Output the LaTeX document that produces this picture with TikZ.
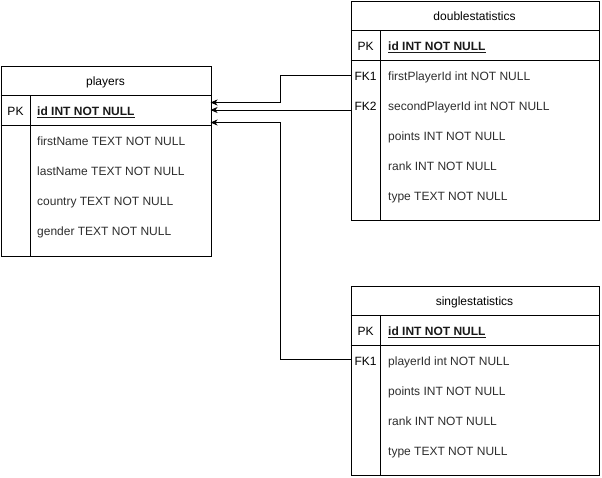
\documentclass[tikz,border=0pt]{standalone}
\usepackage{fontspec}
\setmainfont{Liberation Sans}
\usetikzlibrary{arrows.meta}
\begin{document}
\begin{tikzpicture}[x=1pt,y=-1pt,
  frame/.style={draw=black,line width=1pt,fill=white,anchor=north west,inner sep=0pt},
  hdr/.style={font=\fontsize{12}{14}\selectfont,text=black,inner sep=0pt,anchor=base},
  keylbl/.style={font=\fontsize{12}{14}\selectfont,text=black,inner sep=0pt,anchor=base},
  fld/.style={font=\fontsize{12}{14}\selectfont,text=black!82,inner sep=0pt,anchor=base west},
  pkfld/.style={font=\fontsize{12}{14}\selectfont\bfseries,text=black!90,inner sep=0pt,anchor=base west},
  gridline/.style={draw=black,line width=1pt},
  rel/.style={draw=black,line width=1pt,-{Stealth[length=7pt,width=6pt,inset=2pt]}}]
\useasboundingbox (0,0) rectangle (602,477);
\fill[white] (0,0) rectangle (602,477);

% ---------- players ----------
\node[frame,minimum width=210pt,minimum height=190pt] (players) at (0.5,65.5) {};
\draw[gridline] (0.5,95.5) -- (210.5,95.5);
\draw[gridline] (0.5,125.5) -- (210.5,125.5);
\draw[gridline] (30.5,95.5) -- (30.5,255.5);
\node[hdr] (ptitle) at (105.5,85.5) {players};
\node[keylbl] (ppk) at (15.5,115.5) {PK};
\node[pkfld] (pid) at (37,115.5) {\underline{id INT NOT NULL}};
\node[fld] (pf1) at (37,145.5) {firstName TEXT NOT NULL};
\node[fld] (pf2) at (37,175.5) {lastName TEXT NOT NULL};
\node[fld] (pf3) at (37,205.5) {country TEXT NOT NULL};
\node[fld] (pf4) at (37,235.5) {gender TEXT NOT NULL};

% ---------- doublestatistics ----------
\node[frame,minimum width=248pt,minimum height=219pt] (dbl) at (350.5,0.5) {};
\draw[gridline] (350.5,30.5) -- (598.5,30.5);
\draw[gridline] (350.5,60.5) -- (598.5,60.5);
\draw[gridline] (380.5,30.5) -- (380.5,219.5);
\node[hdr] (dtitle) at (474.5,20.5) {doublestatistics};
\node[keylbl] (dpk) at (365.5,50.5) {PK};
\node[pkfld] (did) at (388,50.5) {\underline{id INT NOT NULL}};
\node[keylbl] (dfk1) at (365.5,80.5) {FK1};
\node[fld] (df1) at (388,80.5) {firstPlayerId int NOT NULL};
\node[keylbl] (dfk2) at (365.5,110.5) {FK2};
\node[fld] (df2) at (388,110.5) {secondPlayerId int NOT NULL};
\node[fld] (df3) at (388,140.5) {points INT NOT NULL};
\node[fld] (df4) at (388,170.5) {rank INT NOT NULL};
\node[fld] (df5) at (388,200.5) {type TEXT NOT NULL};

% ---------- singlestatistics ----------
\node[frame,minimum width=248pt,minimum height=189pt] (sgl) at (350.5,285.5) {};
\draw[gridline] (350.5,315.5) -- (598.5,315.5);
\draw[gridline] (350.5,345.5) -- (598.5,345.5);
\draw[gridline] (380.5,315.5) -- (380.5,474.5);
\node[hdr] (stitle) at (474.5,305.5) {singlestatistics};
\node[keylbl] (spk) at (365.5,335.5) {PK};
\node[pkfld] (sid) at (388,335.5) {\underline{id INT NOT NULL}};
\node[keylbl] (sfk1) at (365.5,365.5) {FK1};
\node[fld] (sf1) at (388,365.5) {playerId int NOT NULL};
\node[fld] (sf2) at (388,395.5) {points INT NOT NULL};
\node[fld] (sf3) at (388,425.5) {rank INT NOT NULL};
\node[fld] (sf4) at (388,455.5) {type TEXT NOT NULL};

% ---------- relations ----------
\coordinate (s1) at (350.5,75.5);
\coordinate (e1) at (210.5,102.5);
\coordinate (s2) at (350.5,110);
\coordinate (e2) at (210.5,110);
\coordinate (s3) at (350.5,359.5);
\coordinate (e3) at (210.5,122.5);
\draw[rel] (s1) -- (280.5,75.5) -- (280.5,102.5) -- (e1);
\draw[rel] (s2) -- (e2);
\draw[rel] (s3) -- (280.5,359.5) -- (280.5,122.5) -- (e3);
\end{tikzpicture}
\end{document}
